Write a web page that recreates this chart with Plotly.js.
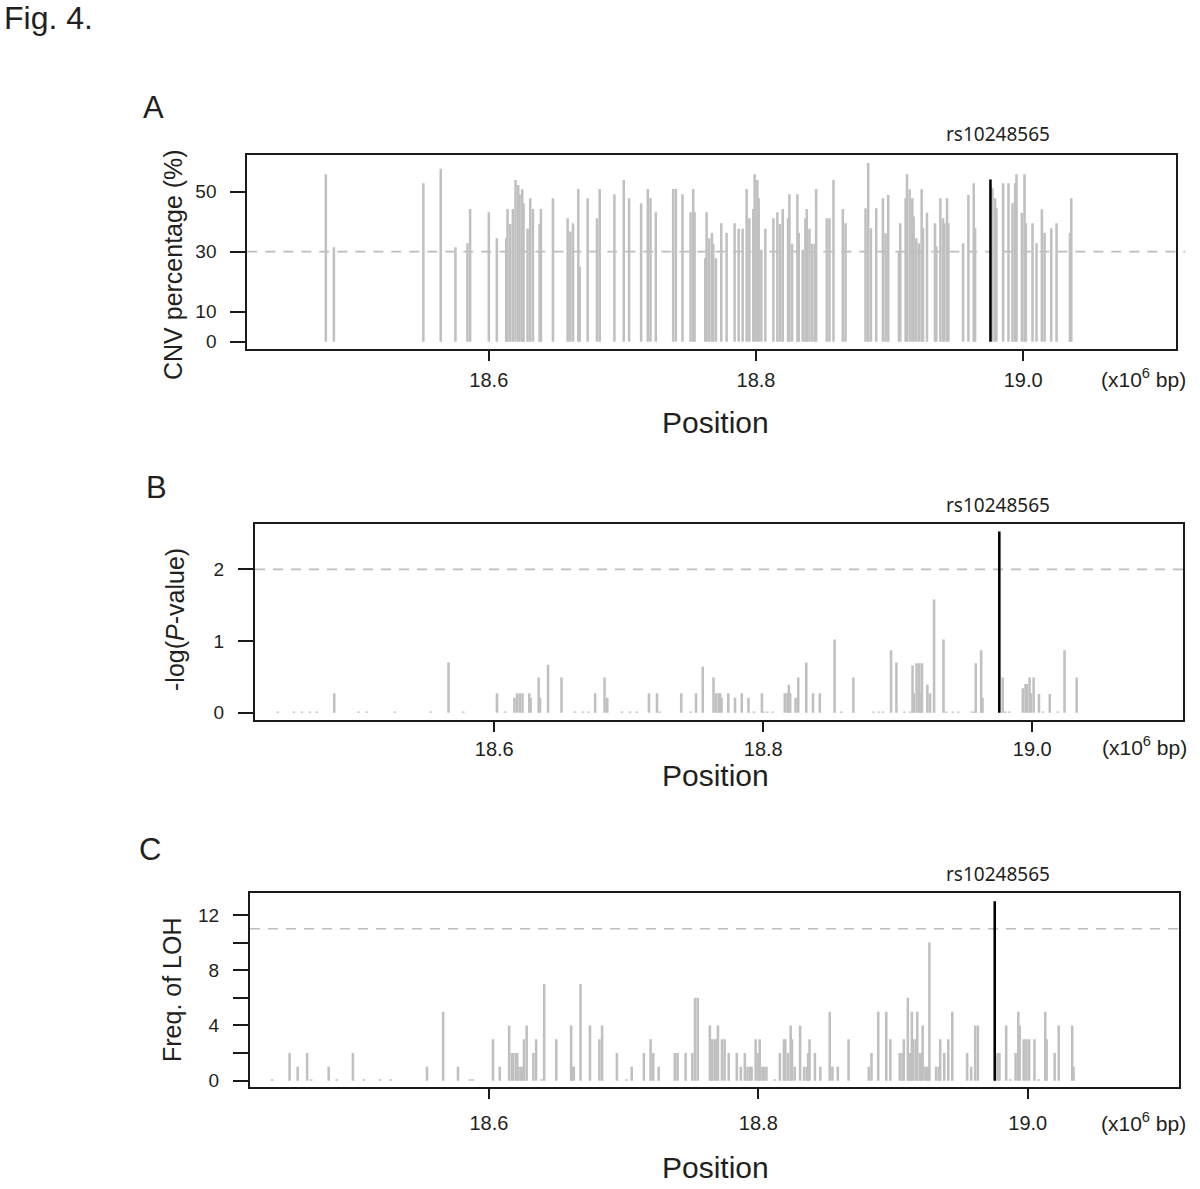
<!DOCTYPE html>
<html><head><meta charset="utf-8">
<script src="https://cdn.plot.ly/plotly-3.0.1.min.js"></script>
<style>body{margin:0;background:#fff}#chart{width:1200px;height:1189px}</style>
</head><body><div id="chart"></div>
<script>
// Panel A: CNV percentage (%)
const posA = [18.478,18.484,18.551,18.564,18.575,18.584,18.586,18.600,18.606,18.613,18.614,18.616,18.618,18.620,18.622,18.623,18.625,18.626,18.629,18.631,18.633,18.638,18.639,18.648,18.659,18.661,18.663,18.667,18.668,18.674,18.681,18.683,18.694,18.701,18.705,18.714,18.719,18.721,18.725,18.738,18.740,18.745,18.751,18.753,18.754,18.762,18.763,18.765,18.767,18.768,18.770,18.774,18.778,18.784,18.787,18.790,18.793,18.795,18.798,18.799,18.801,18.802,18.804,18.807,18.813,18.816,18.818,18.820,18.824,18.825,18.827,18.831,18.832,18.835,18.837,18.838,18.840,18.842,18.844,18.845,18.853,18.855,18.858,18.865,18.867,18.882,18.884,18.886,18.890,18.895,18.897,18.899,18.907,18.908,18.912,18.913,18.915,18.917,18.918,18.920,18.922,18.924,18.925,18.928,18.934,18.935,18.938,18.940,18.941,18.943,18.944,18.955,18.959,18.963,18.964,18.977,18.979,18.980,18.985,18.989,18.992,18.994,18.995,18.999,19.001,19.002,19.007,19.010,19.014,19.016,19.021,19.025,19.035,19.036];
const cnvA = [55.8,31.5,52.8,57.6,31.5,32.8,44.2,43.1,34.5,34.5,44.2,39.2,44.2,53.9,52.2,49.1,50.8,46.1,37.6,47.8,44.2,39.2,44.2,47.8,41.1,36.7,39.5,50.9,25.0,47.8,41.1,50.9,49.1,53.9,47.8,46.1,50.9,47.8,43.1,50.9,50.9,49.1,43.1,50.9,43.1,27.8,43.1,34.5,36.3,32.6,27.8,39.5,36.3,39.5,37.6,37.6,50.9,41.1,44.2,55.8,53.9,47.8,30.6,37.6,41.1,43.1,39.2,44.2,41.1,49.1,32.6,49.1,36.3,30.6,41.1,44.2,37.6,32.6,32.6,50.9,41.1,41.1,53.9,44.2,39.5,44.5,59.5,37.8,44.5,47.8,36.1,48.9,30.0,39.5,47.8,55.8,50.8,47.8,41.7,34.5,32.8,50.8,37.8,43.0,39.5,31.7,47.8,41.1,39.5,47.8,39.5,32.8,48.9,52.8,37.8,51.1,47.8,44.5,52.8,52.8,46.1,52.8,55.8,43.0,55.8,39.5,39.5,32.8,44.1,36.3,37.8,39.5,36.3,47.8];

// Panel B: -log(P-value)
const posB = [18.439,18.451,18.457,18.463,18.468,18.481,18.499,18.505,18.526,18.553,18.566,18.577,18.602,18.608,18.615,18.617,18.619,18.621,18.626,18.627,18.633,18.634,18.640,18.650,18.660,18.666,18.670,18.675,18.682,18.684,18.695,18.701,18.706,18.715,18.721,18.723,18.739,18.746,18.750,18.755,18.763,18.765,18.767,18.768,18.769,18.774,18.779,18.784,18.789,18.793,18.799,18.800,18.803,18.807,18.816,18.818,18.819,18.820,18.824,18.826,18.832,18.837,18.842,18.853,18.858,18.867,18.882,18.886,18.889,18.895,18.899,18.905,18.909,18.911,18.912,18.914,18.916,18.917,18.918,18.922,18.924,18.927,18.934,18.936,18.941,18.945,18.955,18.957,18.958,18.962,18.963,18.978,18.980,18.983,18.993,18.995,18.996,18.998,18.999,19.001,19.005,19.008,19.013,19.019,19.024,19.033];
const pB = [0.015,0.015,0.015,0.015,0.015,0.27,0.015,0.015,0.015,0.015,0.70,0.015,0.27,0.015,0.21,0.27,0.27,0.27,0.27,0.21,0.49,0.21,0.67,0.49,0.015,0.015,0.015,0.27,0.49,0.21,0.015,0.015,0.015,0.27,0.27,0.015,0.27,0.015,0.27,0.64,0.49,0.27,0.27,0.27,0.21,0.27,0.21,0.27,0.21,0.015,0.27,0.015,0.015,0.015,0.27,0.27,0.39,0.27,0.21,0.49,0.70,0.27,0.27,1.02,0.015,0.49,0.015,0.015,0.015,0.87,0.70,0.015,0.015,0.66,0.27,0.69,0.69,0.27,0.69,0.39,0.27,1.58,1.02,0.015,0.015,0.015,0.015,0.015,0.69,0.87,0.21,0.49,0.015,0.015,0.34,0.40,0.40,0.49,0.27,0.49,0.26,0.015,0.26,0.015,0.87,0.49];

// Panel C: Freq. of LOH
const posC = [18.439,18.452,18.458,18.465,18.468,18.481,18.487,18.499,18.507,18.519,18.527,18.554,18.566,18.577,18.586,18.588,18.603,18.608,18.615,18.617,18.618,18.620,18.621,18.622,18.624,18.625,18.626,18.628,18.633,18.635,18.639,18.641,18.650,18.661,18.662,18.663,18.668,18.675,18.682,18.684,18.695,18.702,18.706,18.715,18.720,18.722,18.726,18.738,18.740,18.746,18.751,18.753,18.755,18.764,18.765,18.766,18.768,18.769,18.770,18.773,18.775,18.778,18.784,18.787,18.790,18.792,18.794,18.795,18.798,18.800,18.801,18.803,18.804,18.806,18.812,18.816,18.819,18.820,18.822,18.824,18.825,18.827,18.831,18.834,18.836,18.837,18.838,18.842,18.846,18.853,18.855,18.859,18.867,18.882,18.884,18.889,18.895,18.898,18.905,18.907,18.908,18.911,18.912,18.913,18.914,18.915,18.917,18.918,18.920,18.921,18.922,18.924,18.925,18.926,18.927,18.932,18.934,18.935,18.938,18.941,18.944,18.955,18.958,18.961,18.963,18.976,18.978,18.979,18.984,18.987,18.991,18.993,18.994,18.997,18.999,19.001,19.005,19.008,19.013,19.014,19.020,19.023,19.033,19.034];
const lohC = [0.1,2,1,2,0.1,1,0.1,2,0.1,0.1,0.1,1,5,1,0.1,0.1,3,1,4,2,2,2,2,1,1,1,3,4,2,3,0.1,7,3,4,1,1,7,4,3,4,2,0.1,1,2,3,2,1,2,2,2,2,6,6,4,3,3,3,3,4,3,3,2,2,1,2,1,1,1,3,2,3,1,1,1,0.1,2,3,3,2,4,3,1,4,1,1,2,3,2,1,5,1,1,3,1,2,5,5,3,2,2,3,6,2,2,5,3,3,5,2,2,4,1,1,1,10,1,1,3,2,3,5,2,1,4,4,2,2,2,4,0.1,2,5,4,3,3,3,3,0.1,5,3,2,4,4,1];

// Highlighted SNP
const rsLabel = "rs10248565";
const rsPos = [18.9755];
const rsA = [54];
const rsB = [2.53];
const rsC = [13.0];

const thresholdA = 30, thresholdB = 2, thresholdC = 11;

const GRAY = '#c0c0c0';
const BW = 0.0019;
function bars(x, y, xa, ya, color) {
  return {type: 'bar', x: x, y: y, xaxis: xa, yaxis: ya, width: BW,
    marker: {color: color, line: {width: 0}}, hoverinfo: 'x+y', showlegend: false};
}
const data = [
  bars(posA, cnvA, 'x', 'y', GRAY),
  bars(rsPos, rsA, 'x', 'y', '#000'),
  bars(posB, pB, 'x2', 'y2', GRAY),
  bars(rsPos, rsB, 'x2', 'y2', '#000'),
  bars(posC, lohC, 'x3', 'y3', GRAY),
  bars(rsPos, rsC, 'x3', 'y3', '#000')
];

const W = 1200, H = 1189;
const px = v => v / W, py = v => 1 - v / H;
const FONT = 'Liberation Sans, Arial, sans-serif';
const INK = '#231f20';

function xax(domain, range, anchor, standoff) {
  return {domain: domain, range: range, anchor: anchor, showgrid: false, zeroline: false,
    showline: true, mirror: true, linecolor: '#1a1a1a', linewidth: 2,
    ticks: 'outside', ticklen: 10, tickwidth: 2, tickcolor: '#1a1a1a',
    tickvals: [18.6, 18.8, 19.0], ticktext: ['18.6', '18.8', '19.0'],
    tickfont: {family: FONT, size: 20, color: INK}, ticklabelstandoff: standoff, fixedrange: true};
}
function yax(domain, range, anchor, vals, text, minor) {
  const a = {domain: domain, range: range, anchor: anchor, showgrid: false, zeroline: false,
    showline: true, mirror: true, linecolor: '#1a1a1a', linewidth: 2,
    ticks: 'outside', ticklen: 15, tickwidth: 2, tickcolor: '#1a1a1a',
    tickvals: vals, ticktext: text,
    tickfont: {family: FONT, size: 19, color: INK}, ticklabelstandoff: 10, fixedrange: true};
  if (minor) a.minor = {tickmode: 'linear', tick0: 0, dtick: minor, ticks: 'outside', ticklen: 15, tickwidth: 2, tickcolor: '#1a1a1a', showgrid: false};
  return a;
}

function ann(text, x, y, size, extra) {
  return Object.assign({text: text, x: px(x), y: py(y), xref: 'paper', yref: 'paper',
    showarrow: false, xanchor: 'center', yanchor: 'middle',
    font: {family: FONT, size: size, color: INK}}, extra || {});
}
const rsFont = {family: 'Noto Sans, Open Sans, sans-serif', size: 19, color: INK};
const unitText = '(x10<sup>6</sup> bp)';

const annotations = [
  ann('Fig. 4.', 2, 18, 32, {xanchor: 'left'}),
  ann('A', 153.5, 107, 31),
  ann('B', 156, 487, 31),
  ann('C', 150, 849, 31),
  ann(rsLabel, 998, 134, 19, {font: rsFont}),
  ann(rsLabel, 997.5, 505, 19, {font: rsFont}),
  ann(rsLabel, 997.5, 874, 19, {font: rsFont}),
  ann('CNV percentage (%)', 173, 265, 25, {textangle: -90}),
  ann('-log(<i>P</i>-value)', 175, 620, 25, {textangle: -90}),
  ann('Freq. of LOH', 172, 990, 25, {textangle: -90}),
  ann('Position', 715, 422, 30),
  ann('Position', 715, 775, 30),
  ann('Position', 715, 1167, 30),
  ann(unitText, 1143, 378, 21),
  ann(unitText, 1144, 746, 21),
  ann(unitText, 1143, 1122, 21)
];

function hline(xa, ya, y, x1) {
  return {type: 'line', xref: xa + ' domain', yref: ya, x0: 0, x1: x1 || 1, y0: y, y1: y,
    line: {color: '#bdbdbd', width: 1.6, dash: '10px,8px'}, layer: 'below'};
}

const layout = {
  width: W, height: H, margin: {l: 0, r: 0, t: 0, b: 0},
  paper_bgcolor: '#fff', plot_bgcolor: '#fff', showlegend: false, barmode: 'overlay',
  xaxis: xax([px(247.3), px(1176)], [18.4192, 19.1144], 'y', 2),
  yaxis: yax([py(349), py(155)], [-2.43, 62.2], 'x', [0, 10, 30, 50], ['0', '10', '30', '50']),
  xaxis2: xax([px(255), px(1183.3)], [18.4221, 19.1123], 'y2', 0),
  yaxis2: yax([py(720), py(524)], [-0.102, 2.633], 'x2', [0, 1, 2], ['0', '1', '2']),
  xaxis3: xax([px(250), px(1179)], [18.4226, 19.1123], 'y3', 7),
  yaxis3: yax([py(1087.3), py(893.3)], [-0.48, 13.57], 'x3', [0, 4, 8, 12], ['0', '4', '8', '12'], 2),
  shapes: [hline('x', 'y', thresholdA, 1.01), hline('x2', 'y2', thresholdB), hline('x3', 'y3', thresholdC)],
  annotations: annotations
};

Plotly.newPlot('chart', data, layout, {staticPlot: true, displayModeBar: false});
</script>
</body></html>
